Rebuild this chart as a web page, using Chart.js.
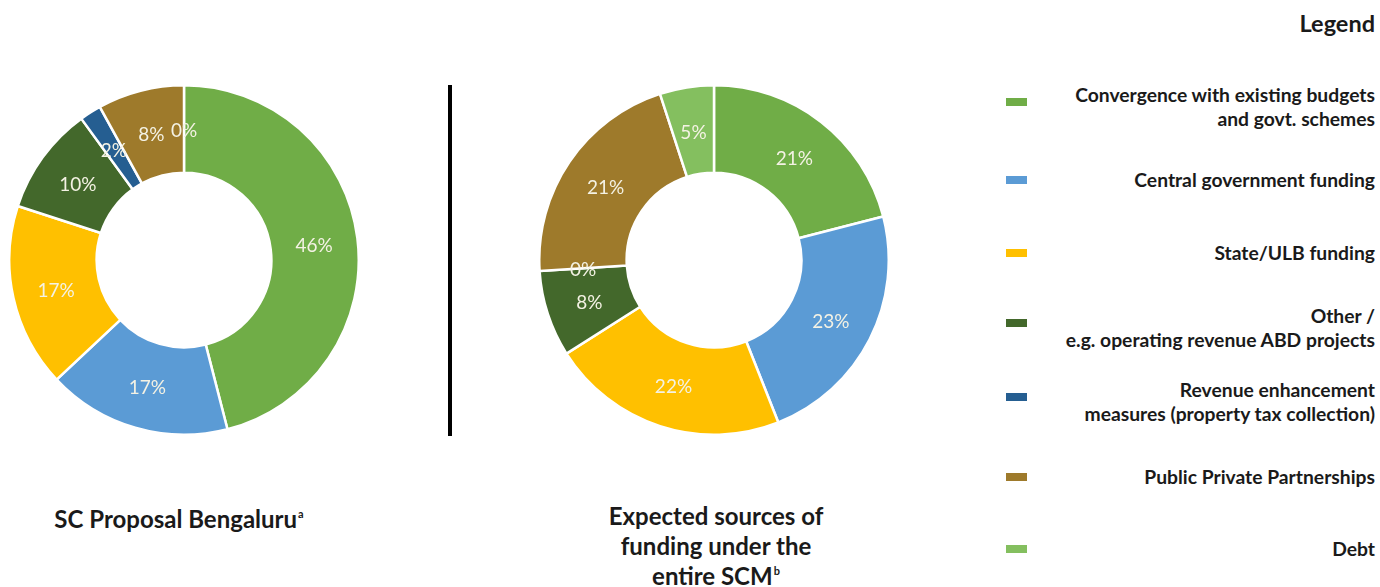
<!DOCTYPE html>
<html>
<head>
<meta charset="utf-8">
<script src="https://cdn.jsdelivr.net/npm/chart.js@4.4.0/dist/chart.umd.min.js"></script>
<style>
  html, body { margin:0; padding:0; background:#fff; width:1380px; height:587px; overflow:hidden; font-family: Lato, "Open Sans", sans-serif; }
  .box { position:absolute; }
  .title { position:absolute; font-weight:700; font-size:24px; color:#1a1a1a; text-align:center; line-height:30px; white-space:nowrap; }
  .title sup { font-size:11px; vertical-align: 10px; margin-left:1px; line-height:0; }
  #divider { position:absolute; left:448px; top:85px; width:4px; height:351px; background:#000; }
  #legendTitle { position:absolute; right:5px; top:9px; font-weight:700; font-size:23.5px; color:#1a1a1a; }
  .lgItem { position:absolute; right:5px; text-align:right; font-weight:700; font-size:19.3px; color:#1a1a1a; line-height:24px; white-space:nowrap; }
  .swatch { position:absolute; left:1006px; width:21px; height:8px; }
</style>
</head>
<body>
<div class="box" style="left:8px;top:84px;width:352px;height:352px;"><canvas id="c1"></canvas></div>
<div class="box" style="left:538px;top:84px;width:352px;height:352px;"><canvas id="c2"></canvas></div>
<div id="divider"></div>
<div class="title" style="left:29px;top:504px;width:300px;">SC Proposal Bengaluru<sup>a</sup></div>
<div class="title" style="left:566px;top:501px;width:300px;">Expected sources of<br>funding under the<br>entire SCM<sup>b</sup></div>
<div id="legendTitle">Legend</div>
<div id="legend"></div>
<script>
const categories = [
  ["Convergence with existing budgets", "and govt. schemes"],
  ["Central government funding"],
  ["State/ULB funding"],
  ["Other /", "e.g. operating revenue ABD projects"],
  ["Revenue enhancement", "measures (property tax collection)"],
  ["Public Private Partnerships"],
  ["Debt"]
];
const proposalValues = [46, 17, 17, 10, 2, 8, 0];
const scmValues = [21, 23, 22, 8, 0, 21, 5];
const colors = ["#70AD47", "#5B9BD5", "#FFC000", "#43682B", "#255E91", "#9E7A2B", "#84BF5F"];
const legendCenters = [107, 180, 253, 328, 402, 477, 549];

// legend (HTML)
const lg = document.getElementById('legend');
categories.forEach((lines, i) => {
  const h = lines.length * 24;
  const t = document.createElement('div');
  t.className = 'lgItem';
  t.style.top = (legendCenters[i] - h / 2) + 'px';
  t.innerHTML = lines.join('<br>');
  lg.appendChild(t);
  const s = document.createElement('div');
  s.className = 'swatch';
  s.style.background = colors[i];
  s.style.top = (legendCenters[i] - 4 - (lines.length > 1 ? 5 : 0)) + 'px';
  lg.appendChild(s);
});

const pctLabels = {
  id: 'pctLabels',
  afterDatasetsDraw(chart) {
    const ctx = chart.ctx;
    const meta = chart.getDatasetMeta(0);
    const data = chart.data.datasets[0].data;
    ctx.save();
    ctx.font = '19px Lato, "Open Sans", sans-serif';
    ctx.fillStyle = '#F4F2E4';
    ctx.textAlign = 'center';
    ctx.textBaseline = 'middle';
    meta.data.forEach((arc, i) => {
      const p = arc.tooltipPosition();
      ctx.fillText(data[i] + '%', p.x, p.y + 2);
    });
    ctx.restore();
  }
};

function makeChart(id, values) {
  return new Chart(document.getElementById(id), {
    type: 'doughnut',
    data: {
      labels: categories.map(l => l.join(' ')),
      datasets: [{
        data: values,
        backgroundColor: colors,
        borderColor: '#ffffff',
        borderWidth: 2.5
      }]
    },
    options: {
      responsive: true,
      maintainAspectRatio: false,
      animation: false,
      cutout: '50%',
      layout: { padding: 0 },
      plugins: { legend: { display: false }, tooltip: { enabled: false } }
    },
    plugins: [pctLabels]
  });
}
makeChart('c1', proposalValues);
makeChart('c2', scmValues);
</script>
</body>
</html>
